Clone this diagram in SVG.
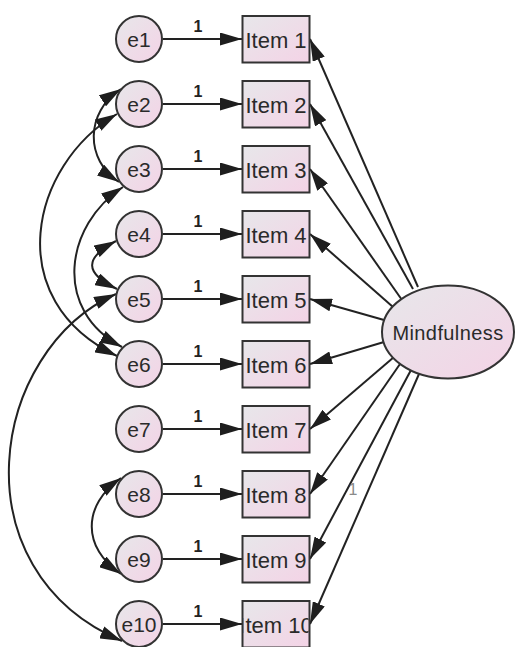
<svg xmlns="http://www.w3.org/2000/svg" width="515" height="647" viewBox="0 0 515 647">
  <defs>
    <linearGradient id="fillGrad" x1="0" y1="0" x2="1" y2="1">
      <stop offset="0" stop-color="#e7e7ea"/>
      <stop offset="1" stop-color="#f4d3e6"/>
    </linearGradient>
    <marker id="arrow" viewBox="0 0 22 13" refX="22" refY="6.5" markerWidth="22" markerHeight="13" markerUnits="userSpaceOnUse" orient="auto-start-reverse">
      <path d="M0,0 L22,6.5 L0,13 z" fill="#1e1e1e"/>
    </marker>
    <clipPath id="clipItem10">
      <rect x="243.5" y="602" width="65" height="45"/>
    </clipPath>
  </defs>
  <style>
    .node { fill: url(#fillGrad); stroke: #333; stroke-width: 2; }
    .lbl { font-family: "Liberation Sans", Arial, sans-serif; fill: #2a2a2a; text-anchor: middle; }
    .err { font-size: 21px; }
    .item { font-size: 22px; }
    .latent { font-size: 20px; letter-spacing: 0.4px; }
    .w { font-family: "Liberation Sans", Arial, sans-serif; font-size: 16px; font-weight: bold; fill: #222; text-anchor: middle; }
    .path { fill: none; stroke: #222; stroke-width: 2; marker-end: url(#arrow); }
    .cov { fill: none; stroke: #222; stroke-width: 2; marker-start: url(#arrow); marker-end: url(#arrow); }
  </style>
  <rect width="515" height="647" fill="#ffffff"/>

  <g id="connectors">
    <!-- error terms to observed items -->
    <path class="path" d="M163 39 H242"/>
    <path class="path" d="M163 104 H242"/>
    <path class="path" d="M163 169 H242"/>
    <path class="path" d="M163 234 H242"/>
    <path class="path" d="M163 299 H242"/>
    <path class="path" d="M163 364 H242"/>
    <path class="path" d="M163 429 H242"/>
    <path class="path" d="M163 494 H242"/>
    <path class="path" d="M163 559 H242"/>
    <path class="path" d="M163 624 H242"/>
    <!-- loadings from the latent factor -->
    <path class="path" d="M418 287 L310 39"/>
    <path class="path" d="M413 289 L310 104"/>
    <path class="path" d="M402 300 L310 169"/>
    <path class="path" d="M393 307 L310 234"/>
    <path class="path" d="M384 320 L310 299"/>
    <path class="path" d="M384 342 L310 364"/>
    <path class="path" d="M394 357 L310 429"/>
    <path class="path" d="M400 364 L310 494"/>
    <path class="path" d="M411 370 L310 559"/>
    <path class="path" d="M419 374 L310 624"/>
    <!-- error covariances -->
    <path class="cov" d="M121 89 C85 112, 85 160, 119 182"/>
    <path class="cov" d="M116 241 C84 258, 84 273, 117 289"/>
    <path class="cov" d="M121 478 C82 505, 82 548, 121 574"/>
    <path class="cov" d="M117 114 C30 165, 0 300, 117 356"/>
    <path class="cov" d="M123 187 C65 225, 52 310, 122 347"/>
    <path class="cov" d="M116 294 C-10 350, -45 570, 122 641"/>
    <!-- fixed weights -->
    <text class="w" x="198" y="32">1</text>
    <text class="w" x="198" y="97">1</text>
    <text class="w" x="198" y="162">1</text>
    <text class="w" x="198" y="227">1</text>
    <text class="w" x="198" y="292">1</text>
    <text class="w" x="198" y="357">1</text>
    <text class="w" x="198" y="422">1</text>
    <text class="w" x="198" y="487">1</text>
    <text class="w" x="198" y="552">1</text>
    <text class="w" x="198" y="617">1</text>
    <text class="w" x="353" y="495" style="fill:#8a8a8a;font-weight:normal">1</text>
  </g>

  <g id="e1"><circle class="node" cx="139" cy="39" r="23"/><text class="lbl err" x="139" y="47">e1</text></g>
  <g id="e2"><circle class="node" cx="139" cy="104" r="23"/><text class="lbl err" x="139" y="112">e2</text></g>
  <g id="e3"><circle class="node" cx="139" cy="169" r="23"/><text class="lbl err" x="139" y="177">e3</text></g>
  <g id="e4"><circle class="node" cx="139" cy="234" r="23"/><text class="lbl err" x="139" y="242">e4</text></g>
  <g id="e5"><circle class="node" cx="139" cy="299" r="23"/><text class="lbl err" x="139" y="307">e5</text></g>
  <g id="e6"><circle class="node" cx="139" cy="364" r="23"/><text class="lbl err" x="139" y="372">e6</text></g>
  <g id="e7"><circle class="node" cx="139" cy="429" r="23"/><text class="lbl err" x="139" y="437">e7</text></g>
  <g id="e8"><circle class="node" cx="139" cy="494" r="23"/><text class="lbl err" x="139" y="502">e8</text></g>
  <g id="e9"><circle class="node" cx="139" cy="559" r="23"/><text class="lbl err" x="139" y="567">e9</text></g>
  <g id="e10"><circle class="node" cx="139" cy="624" r="23"/><text class="lbl err" x="139" y="632">e10</text></g>

  <g id="item1"><rect class="node" x="242.5" y="16" width="67" height="46.5"/><text class="lbl item" x="276" y="48">Item 1</text></g>
  <g id="item2"><rect class="node" x="242.5" y="81" width="67" height="46.5"/><text class="lbl item" x="276" y="113">Item 2</text></g>
  <g id="item3"><rect class="node" x="242.5" y="146" width="67" height="46.5"/><text class="lbl item" x="276" y="178">Item 3</text></g>
  <g id="item4"><rect class="node" x="242.5" y="211" width="67" height="46.5"/><text class="lbl item" x="276" y="243">Item 4</text></g>
  <g id="item5"><rect class="node" x="242.5" y="276" width="67" height="46.5"/><text class="lbl item" x="276" y="308">Item 5</text></g>
  <g id="item6"><rect class="node" x="242.5" y="341" width="67" height="46.5"/><text class="lbl item" x="276" y="373">Item 6</text></g>
  <g id="item7"><rect class="node" x="242.5" y="406" width="67" height="46.5"/><text class="lbl item" x="276" y="438">Item 7</text></g>
  <g id="item8"><rect class="node" x="242.5" y="471" width="67" height="46.5"/><text class="lbl item" x="276" y="503">Item 8</text></g>
  <g id="item9"><rect class="node" x="242.5" y="536" width="67" height="46.5"/><text class="lbl item" x="276" y="568">Item 9</text></g>
  <g id="item10"><rect class="node" x="242.5" y="601" width="67" height="46.5"/><text class="lbl item" x="276" y="633" clip-path="url(#clipItem10)">Item 10</text></g>

  <g id="mindfulness">
    <ellipse class="node" cx="448" cy="332" rx="66" ry="46.5"/>
    <text class="lbl latent" x="448" y="340">Mindfulness</text>
  </g>
</svg>
